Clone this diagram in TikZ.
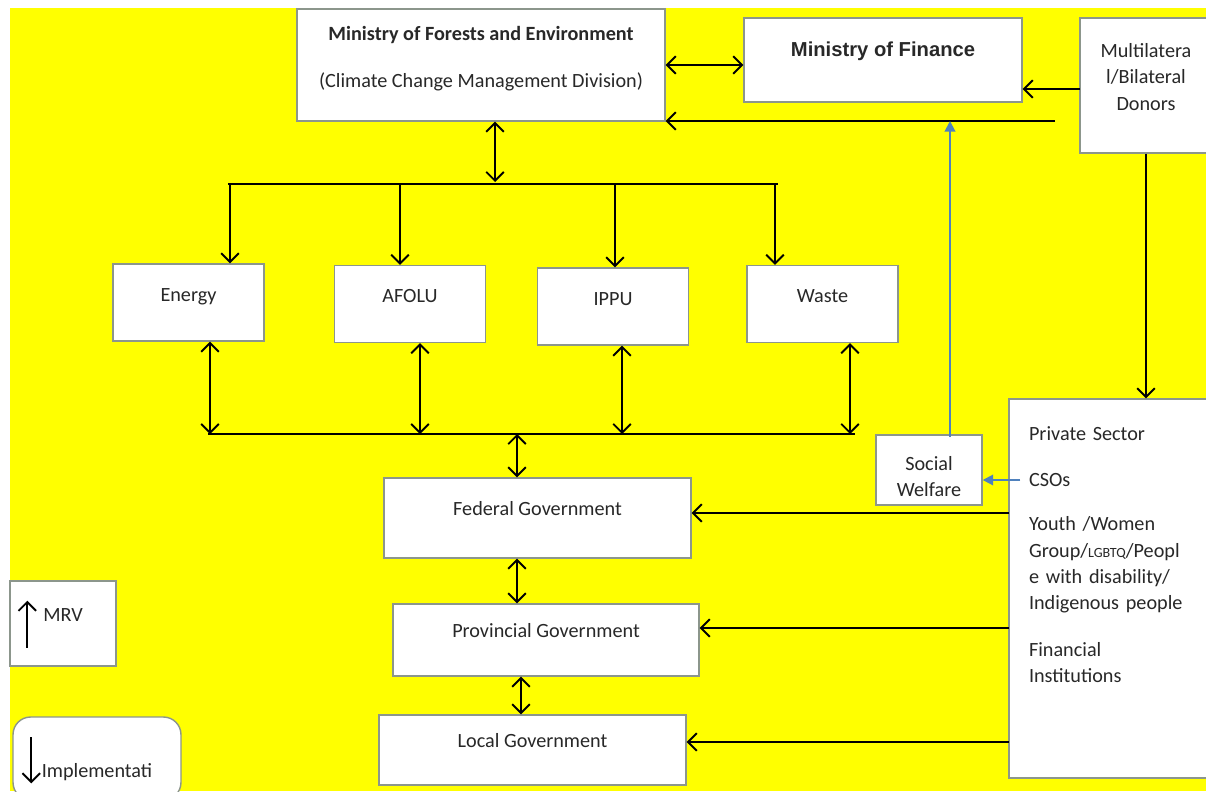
\documentclass[tikz,border=0pt]{standalone}
\usepackage{fontspec}
\setmainfont{Carlito}
\newfontfamily\arialfont{Liberation Sans}
\usetikzlibrary{arrows.meta,positioning}
\definecolor{bgyellow}{RGB}{255,255,0}
\definecolor{boxline}{RGB}{140,150,140}
\definecolor{txt}{RGB}{40,40,40}
\definecolor{swblue}{RGB}{79,129,189}

\begin{document}
\begin{tikzpicture}[x=0.02cm,y=-0.02cm,>={Straight Barb[length=5pt,width=10pt]},line width=1.1pt,
	font=\fontsize{11.5}{15}\selectfont]
	\tikzstyle{box}=[draw=boxline,line width=0.8pt,fill=white,text=txt,align=center,inner sep=2pt,text depth=10pt]
	\tikzstyle{sector}=[box,minimum width=3.02cm,minimum height=1.54cm,text depth=9pt]
	\tikzstyle{gov}=[box,minimum width=6.14cm,text depth=11pt]
	\tikzstyle{bluearr}=[-{Triangle[length=6pt,width=6pt]},draw=swblue,fill=swblue]

	\useasboundingbox (0,0) rectangle (1206,791);
	\fill[bgyellow] (10,8) rectangle (1206,791);

	\node[box,minimum width=7.36cm,minimum height=2.24cm,text depth=9pt] (MoFE) at (481,65)
		{\textbf{Ministry of Forests and Environment}\\[12pt](Climate Change Management Division)};
	\node[box,minimum width=5.56cm,minimum height=1.68cm,text depth=12pt] (MoF) at (883,60)
		{\arialfont\bfseries Ministry of Finance};
	\node[box,minimum width=2.64cm,minimum height=2.7cm] (Donors) at (1146,85.5)
		{Multilatera\\l/Bilateral\\Donors};

	\node[sector] (Energy) at (188.5,302.5) {Energy};
	\node[sector] (AFOLU) at (410,304) {AFOLU};
	\node[sector] (IPPU) at (613,306.5) {IPPU};
	\node[sector] (Waste) at (822.5,304) {Waste};

	\node[gov,minimum height=1.6cm] (Federal) at (537.5,518) {Federal Government};
	\node[gov,minimum width=6.12cm,minimum height=1.44cm] (Provincial) at (546,640) {Provincial Government};
	\node[gov,minimum height=1.4cm] (Local) at (532.5,750) {Local Government};

	\node[box,minimum width=2.12cm,minimum height=1.32cm,text height=33pt,text depth=3pt] (SW) at (929,470) {Social\\Welfare};
	\node[box,minimum width=4.32cm,minimum height=7.58cm,text width=3.52cm,align=left,text height=21pt,text depth=190pt] (PS) at (1117,588.5)
		{Private Sector\\[0.4cm]CSOs\\[0.36cm]Youth /Women\\Group/{\footnotesize LGBTQ}/Peopl\\e with disability/\\Indigenous people\\[0.4cm]Financial\\Institutions};

	\node[box,minimum width=2.12cm,minimum height=1.7cm] (MRV) at (63,623.5) {MRV};
	\node[box,rounded corners=10pt,minimum width=3.36cm,minimum height=1.66cm,text depth=0pt,text height=22pt] (Impl) at (97,758.5) {Implementati};
	\draw[->] (MRV.south west) ++(18,-19) -- ++(0,-47);
	\draw[->] (Impl.north west) ++(19,21) -- ++(0,46);

	% top part
	\coordinate (dline) at (1055,121);
	\coordinate (swup) at (950,437);
	\coordinate (mid) at (495,182);
	\coordinate (don) at (1080,89);
	\draw[<->] (MoFE.east) -- (MoFE.east -| MoF.west);
	\draw[->] (don) -- (don -| MoF.east);
	\draw[->] (dline) -- (dline -| MoFE.east);
	\draw[bluearr] (swup) -- (swup |- dline);
	\draw[<->] (mid |- MoFE.south) -- (mid);
	\draw[->] (Donors.south) -- (Donors.south |- PS.north);

	% sectors
	\coordinate (b0) at (228,184);
	\coordinate (b1) at (230,184);
	\coordinate (b2) at (400,184);
	\coordinate (b3) at (615,184);
	\coordinate (b4) at (775,184);
	\coordinate (b5) at (778,184);
	\draw (b0) -- (b5);
	\foreach \b/\s in {b1/Energy,b2/AFOLU,b3/IPPU,b4/Waste}
		\draw[->] (\b) -- (\b |- \s.north);

	\coordinate (c0) at (208,434);
	\coordinate (c1) at (210,434);
	\coordinate (c2) at (420,434);
	\coordinate (c3) at (622,434);
	\coordinate (c4) at (850,434);
	\coordinate (c5) at (855,434);
	\draw (c0) -- (c5);
	\foreach \c/\s in {c1/Energy,c2/AFOLU,c3/IPPU,c4/Waste}
		\draw[<->] (\c |- \s.south) -- (\c);

	% governments
	\coordinate (c6) at (517,434);
	\coordinate (c7) at (521,700);
	\draw[<->] (c6) -- (c6 |- Federal.north);
	\draw[<->] (Federal.south -| c6) -- (Provincial.north -| c6);
	\draw[<->] (Provincial.south -| c7) -- (Local.north -| c7);

	\coordinate (csos) at (1020,480);
	\coordinate (fed) at (1009,513);
	\coordinate (prov) at (1009,628);
	\coordinate (loc) at (1009,742);
	\draw[bluearr] (csos) -- (csos -| SW.east);
	\draw[->] (fed) -- (fed -| Federal.east);
	\draw[->] (prov) -- (prov -| Provincial.east);
	\draw[->] (loc) -- (loc -| Local.east);
\end{tikzpicture}
\end{document}
